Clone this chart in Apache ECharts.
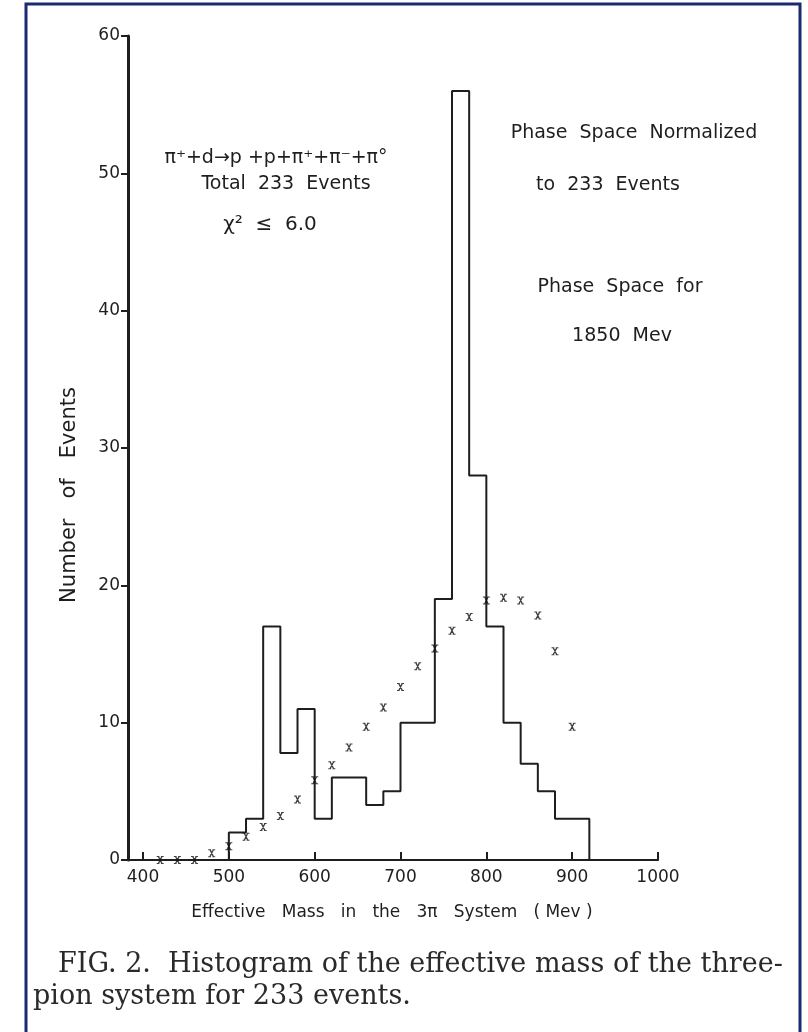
<!DOCTYPE html>
<html>
<head>
<meta charset="utf-8">
<script src="https://cdn.jsdelivr.net/npm/echarts@6/dist/echarts.min.js"></script>
<style>
  html, body { margin: 0; padding: 0; background: #ffffff; }
  #chart { width: 808px; height: 1032px; }
</style>
</head>
<body>
<div id="chart"></div>
<script>
// ---- Data ----
// Histogram bins (20 MeV wide), lower edge and event count
const binStarts = [500, 520, 540, 560, 580, 600, 620, 640, 660, 680, 700, 720, 740, 760, 780, 800, 820, 840, 860, 880, 900];
const binCounts = [2, 3, 17, 7.8, 11, 3, 6, 6, 4, 5, 10, 10, 19, 56, 28, 17, 10, 7, 5, 3, 3];
const binWidth = 20;

// Phase space (normalized to 233 events), plotted as "x" marks
const phaseMass   = [420, 440, 460, 480, 500, 520, 540, 560, 580, 600, 620, 640, 660, 680, 700, 720, 740, 760, 780, 800, 820, 840, 860, 880, 900];
const phaseValues = [0, 0, 0, 0.5, 1.0, 1.7, 2.4, 3.2, 4.4, 5.8, 6.9, 8.2, 9.7, 11.1, 12.6, 14.1, 15.4, 16.7, 17.7, 18.9, 19.1, 18.9, 17.8, 15.2, 9.7];

// Axis tick labels
const xTickValues = [400, 500, 600, 700, 800, 900, 1000];
const yTickValues = [0, 10, 20, 30, 40, 50, 60];

// Build step-line points from the bins
const histPoints = [[binStarts[0], 0]];
binStarts.forEach((x, i) => histPoints.push([x, binCounts[i]]));
histPoints.push([binStarts[binStarts.length - 1] + binWidth, 0]);

const ink = '#1e1e1e';
const letterFont = 'DejaVu Sans';

const xMark = 'path://M0.3,0 H4 V1.5 H0.3 Z M6,0 H9.7 V1.5 H6 Z M0.3,10.5 H4 V12 H0.3 Z M6,10.5 H9.7 V12 H6 Z M1.8,1 L3.8,1 L8.2,11 L6.2,11 Z M6.2,1 L8.2,1 L3.8,11 L1.8,11 Z';

const chart = echarts.init(document.getElementById('chart'), null, { renderer: 'canvas' });

function txt(text, x, y, size, extra) {
  return Object.assign({
    type: 'text',
    x: x, y: y,
    style: {
      text: text,
      fill: ink,
      font: size + 'px "' + letterFont + '"',
      textAlign: 'center',
      textVerticalAlign: 'middle'
    }
  }, extra || {});
}

const option = {
  backgroundColor: '#ffffff',
  animation: false,
  grid: { left: 128, right: 150, top: 36, bottom: 172, containLabel: false },
  xAxis: {
    type: 'value',
    min: 382.5,
    max: 1000,
    axisLine: { show: true, lineStyle: { color: ink, width: 2 } },
    axisTick: { show: true, inside: true, length: 8, customValues: xTickValues, lineStyle: { color: ink, width: 2 } },
    axisLabel: { show: true, customValues: xTickValues, formatter: v => String(v), color: ink, fontSize: 17, fontFamily: letterFont, margin: 9 },
    splitLine: { show: false }
  },
  yAxis: {
    type: 'value',
    min: 0,
    max: 60,
    interval: 10,
    axisLine: { show: true, lineStyle: { color: ink, width: 3 } },
    axisTick: { show: true, inside: false, length: 7, lineStyle: { color: ink, width: 2 } },
    axisLabel: { show: true, formatter: v => String(v), color: ink, fontSize: 17, fontFamily: letterFont, margin: 8 },
    splitLine: { show: false }
  },
  series: [
    {
      type: 'line',
      name: 'Histogram',
      data: histPoints,
      step: 'end',
      symbol: 'none',
      lineStyle: { color: ink, width: 2 },
      z: 3
    },
    {
      type: 'scatter',
      name: 'Phase space',
      data: phaseMass.map((m, i) => [m, phaseValues[i]]),
      symbol: xMark,
      symbolSize: [7, 8],
      itemStyle: { color: '#111' },
      z: 4
    }
  ],
  graphic: [
    {
      type: 'rect',
      shape: { x: 26, y: 4, width: 774, height: 1040 },
      style: { fill: 'none', stroke: '#1b2b70', lineWidth: 3 },
      silent: true
    },
    txt('π⁺+d→p +p+π⁺+π⁻+π°', 276, 158, 19),
    txt('Total  233  Events', 286, 184, 19),
    txt('χ²  ≤  6.0', 270, 225, 20),
    txt('Phase  Space  Normalized', 634, 133, 19),
    txt('to  233  Events', 608, 185, 19),
    txt('Phase  Space  for', 620, 287, 19),
    txt('1850  Mev', 622, 336, 19),
    txt('Effective   Mass   in   the   3π   System   ( Mev )', 392, 913, 17),
    {
      type: 'text', x: 70, y: 495, rotation: Math.PI / 2,
      style: { text: 'Number   of   Events', fill: ink, font: '21px "' + letterFont + '"',
               textAlign: 'center', textVerticalAlign: 'middle' }
    },
    {
      type: 'text', x: 58, y: 965,
      style: { text: 'FIG. 2.  Histogram of the effective mass of the three-', fill: '#2a2a2a',
               font: '27px "DejaVu Serif"', textAlign: 'left', textVerticalAlign: 'middle' }
    },
    {
      type: 'text', x: 33, y: 997,
      style: { text: 'pion system for 233 events.', fill: '#2a2a2a',
               font: '27px "DejaVu Serif"', textAlign: 'left', textVerticalAlign: 'middle' }
    }
  ]
};

chart.setOption(option);
</script>
</body>
</html>
